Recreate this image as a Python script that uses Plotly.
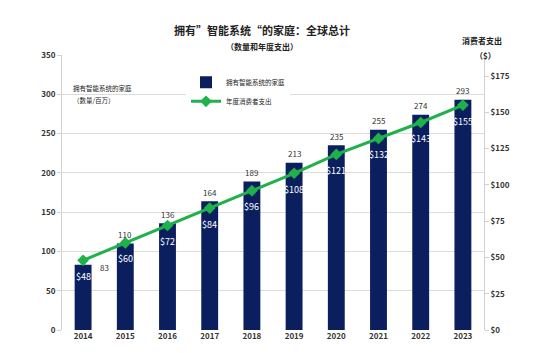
import plotly.graph_objects as go

years = ["2014", "2015", "2016", "2017", "2018", "2019", "2020", "2021", "2022", "2023"]
households = [83, 110, 136, 164, 189, 213, 235, 255, 274, 293]
spending = [48, 60, 72, 84, 96, 108, 121, 132, 143, 155]
left_ticks = [0, 50, 100, 150, 200, 250, 300, 350]
right_ticks = [0, 25, 50, 75, 100, 125, 150, 175]

navy = "#0b1f5e"
green = "#1fb14a"
font = "Noto Sans CJK SC, Liberation Sans, sans-serif"

fig = go.Figure()
fig.add_trace(go.Bar(
    x=years, y=households, name="拥有智能系统的家庭",
    marker=dict(color=navy, line=dict(width=0)),
    yaxis="y",
))
fig.add_trace(go.Scatter(
    x=years, y=spending, name="年度消费者支出", yaxis="y2",
    mode="lines+markers",
    line=dict(color=green, width=3),
    marker=dict(symbol="diamond", size=9, color=green),
))

for i, v in enumerate(households):
    if i == 0:
        fig.add_annotation(x=i, y=v, xref="x", yref="y", text=str(v), showarrow=False,
                           xshift=21, yshift=-3,
                           font=dict(size=8, color="#333333", family=font))
    else:
        fig.add_annotation(x=i, y=v, xref="x", yref="y", text=str(v), showarrow=False, yshift=9,
                           font=dict(size=8, color="#333333", family=font))

for i, v in enumerate(spending):
    fig.add_annotation(x=i, y=v, xref="x", yref="y2", text="$%d" % v, showarrow=False, yshift=-16,
                       font=dict(size=9, color="white", family=font))

W, H = 533, 353
def px(xp, yp):
    return (xp - 62) / (484 - 62), (334 - yp) / (334 - 55)

def ann(text, xp, yp, size, bold=False, color="#222222", xanchor="center"):
    xx, yy = px(xp, yp)
    fig.add_annotation(text=("<b>%s</b>" % text) if bold else text, x=xx, y=yy,
                       xref="paper", yref="paper", showarrow=False, xanchor=xanchor, yanchor="middle",
                       font=dict(size=size, color=color, family=font))

ann("拥有”智能系统“的家庭：全球总计", 262, 30, 11, bold=True)
ann("（数量和年度支出）", 262, 46, 8, bold=True)
ann("消费者支出", 482, 40, 8, bold=True)
ann("（$）", 485, 56, 8, bold=True)
ann("拥有智能系统的家庭", 71, 88, 6.5, xanchor="left")
ann("（数量/百万）", 71, 101, 6.5, xanchor="left")

# white box hiding the gridline behind the left label
x0, y0 = px(63, 85)
x1, y1 = px(137, 104)
fig.add_shape(type="rect", xref="paper", yref="paper", x0=x0, x1=x1, y0=y1, y1=y0,
              fillcolor="white", line=dict(width=0), layer="below")

fig.update_layout(
    width=W, height=H,
    margin=dict(l=62, r=49, t=55, b=19),
    paper_bgcolor="white", plot_bgcolor="white",
    bargap=0.6,
    showlegend=True,
    legend=dict(x=(186 - 62) / 422, y=(334 - 68) / 279, xanchor="left", yanchor="top",
                bgcolor="white", font=dict(size=6.5, family=font, color="#222222"),
                itemwidth=30, tracegroupgap=2),
    xaxis=dict(
        type="category", range=[-0.5, 9.5], showgrid=False, showline=False,
        ticks="", tickvals=years, ticktext=["<b>%s</b>" % y for y in years],
        tickfont=dict(size=8, family=font, color="#333333"),
    ),
    yaxis=dict(
        range=[0, 350], tickvals=left_ticks, ticktext=["<b>%d</b>" % v for v in left_ticks],
        showgrid=True, gridcolor="#dcdcdc", gridwidth=1,
        showline=True, linecolor="#d0d0d0", ticks="outside", ticklen=4, tickcolor="#d0d0d0",
        tickfont=dict(size=8, family=font, color="#333333"), zeroline=False,
    ),
    yaxis2=dict(
        overlaying="y", side="right", range=[0, 189.5], tickvals=right_ticks,
        ticktext=["<b>$%d</b>" % v for v in right_ticks],
        showgrid=False, showline=True, linecolor="#d0d0d0", ticks="outside", ticklen=4,
        tickcolor="#d0d0d0", tickfont=dict(size=8, family=font, color="#333333"), zeroline=False,
    ),
)

fig.write_html("out.html")
